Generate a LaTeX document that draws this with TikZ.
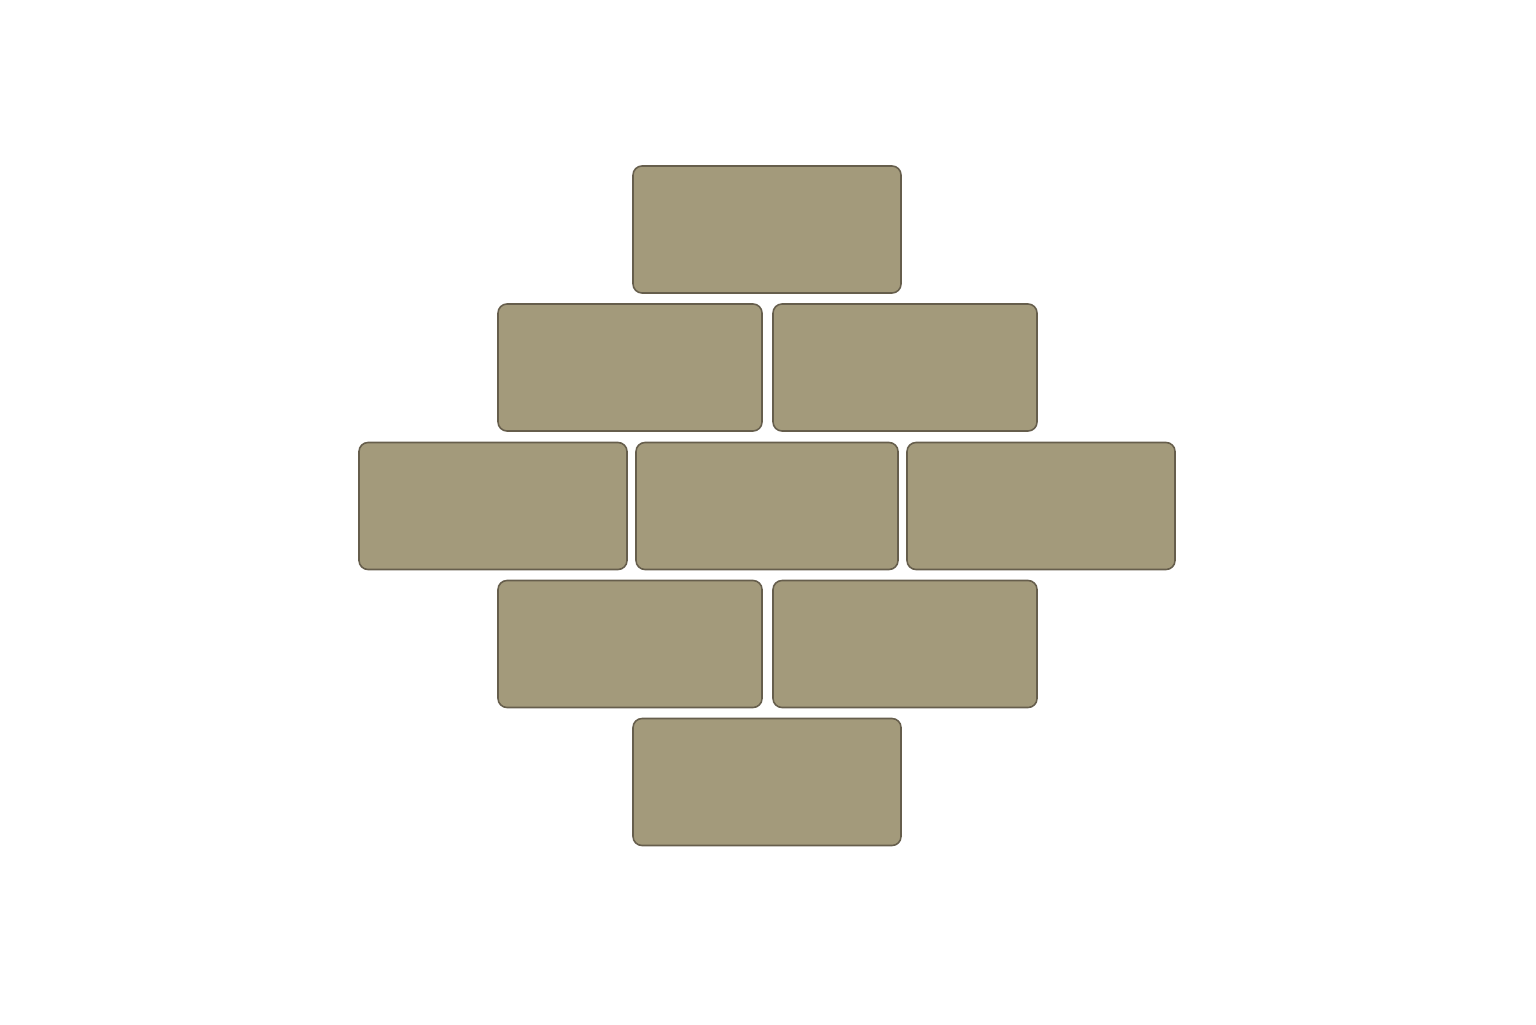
\documentclass[tikz,border=0pt]{standalone}
\usepackage{tikz}

\definecolor{brickfill}{HTML}{A39A7B}
\definecolor{brickline}{HTML}{665E4C}

\tikzset{
  brick/.style={draw=brickline, fill=brickfill, line width=0.45pt,
    rounded corners=0.9mm, inner sep=0pt, outer sep=0pt,
    minimum height=1.27cm},
  wide/.style={brick, minimum width=2.68cm},
  mid/.style={brick, minimum width=2.64cm},
  narrow/.style={brick, minimum width=2.62cm}
}

\begin{document}
\begin{tikzpicture}
   \useasboundingbox (0,0) rectangle (15.36,10.24);

   % top
   \node[wide] (top) at (7.67,7.945) {};

   % second row
   \node[mid] (upleft)  at (6.30,6.565) {};
   \node[mid] (upright) at (9.05,6.565) {};

   % middle row
   \node[wide]   (left)   at (4.93,5.18) {};
   \node[narrow] (centre) at (7.67,5.18) {};
   \node[wide]   (right)  at (10.41,5.18) {};

   % fourth row
   \node[mid] (lowleft)  at (6.30,3.80) {};
   \node[mid] (lowright) at (9.05,3.80) {};

   % bottom
   \node[wide] (bottom) at (7.67,2.42) {};
\end{tikzpicture}
\end{document}
